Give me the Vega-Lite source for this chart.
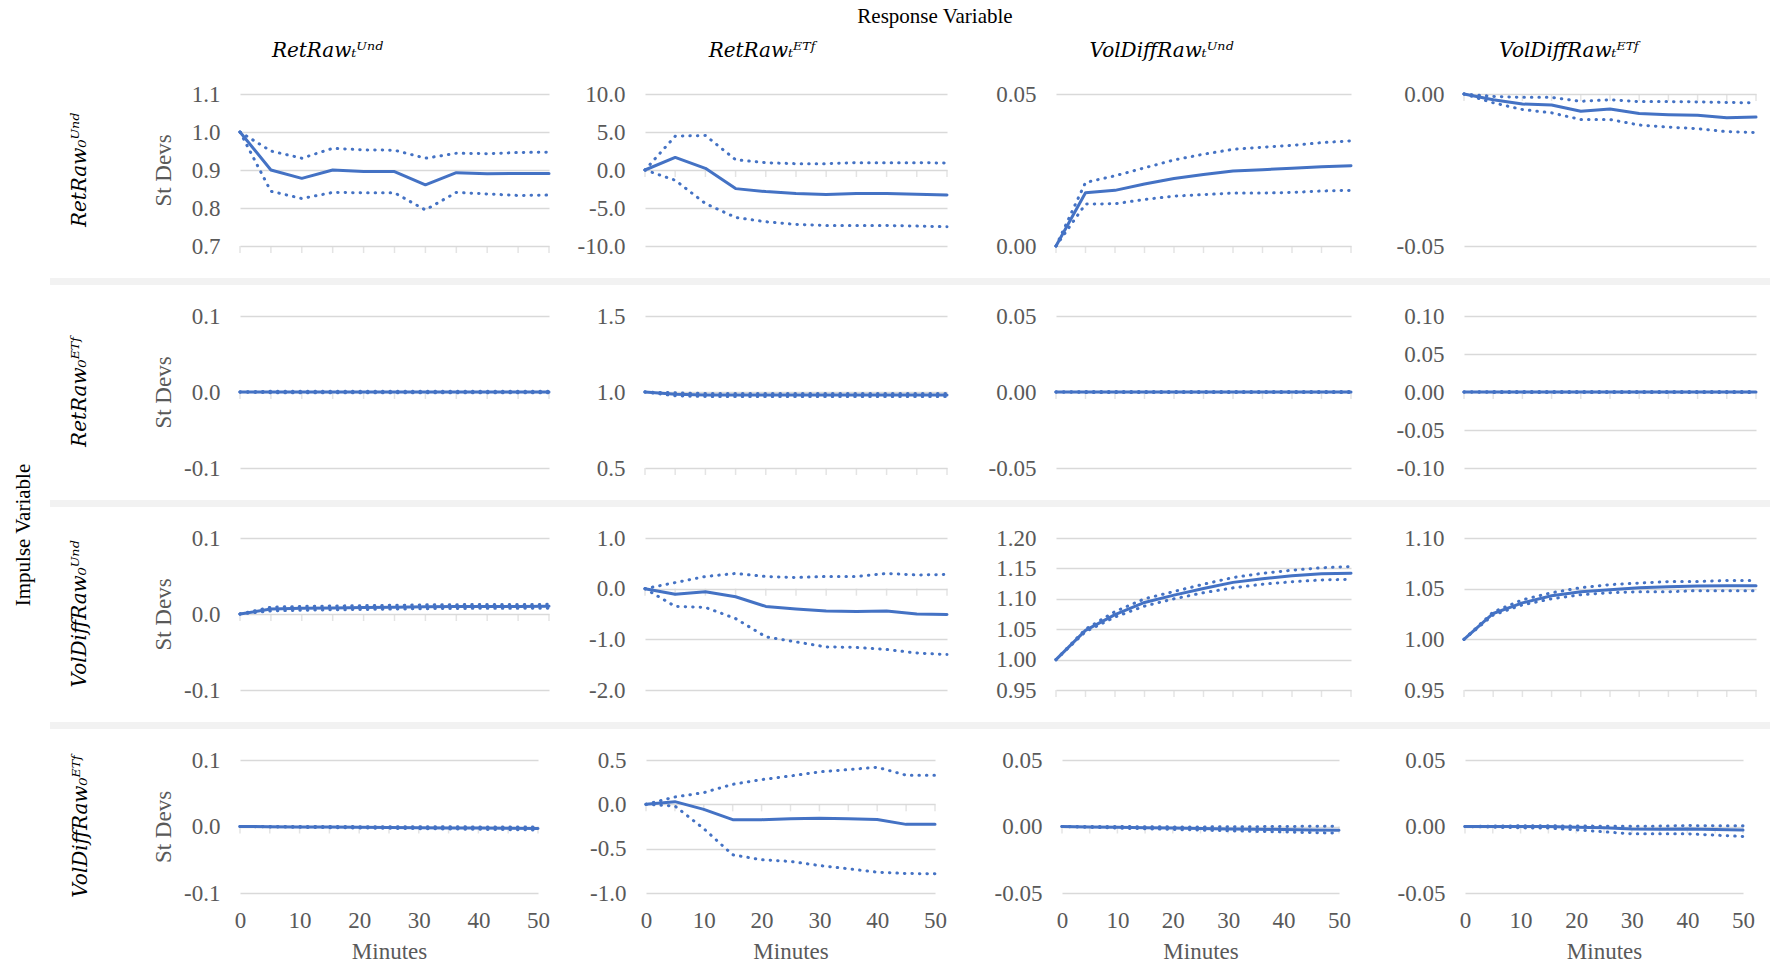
{
"$schema": "https://vega.github.io/schema/vega-lite/v6.json",
"background": "white",
"padding": {"left": 12, "top": 6, "right": 0, "bottom": 0},
"datasets": {"d": [
{"p":"11","t":0,"irf":1,"up":1,"lo":1},{"p":"11","t":5,"irf":0.9,"up":0.95,"lo":0.844},{"p":"11","t":10,"irf":0.878,"up":0.931,"lo":0.825},{"p":"11","t":15,"irf":0.9,"up":0.957,"lo":0.841},{"p":"11","t":20,"irf":0.896,"up":0.953,"lo":0.84},{"p":"11","t":25,"irf":0.896,"up":0.952,"lo":0.84},{"p":"11","t":30,"irf":0.861,"up":0.931,"lo":0.795},{"p":"11","t":35,"irf":0.893,"up":0.944,"lo":0.841},{"p":"11","t":40,"irf":0.89,"up":0.943,"lo":0.837},{"p":"11","t":45,"irf":0.891,"up":0.946,"lo":0.833},{"p":"11","t":50,"irf":0.891,"up":0.947,"lo":0.834},
{"p":"12","t":0,"irf":0,"up":0,"lo":0},{"p":"12","t":5,"irf":1.66,"up":4.45,"lo":-1.35},{"p":"12","t":10,"irf":0.22,"up":4.54,"lo":-4.41},{"p":"12","t":15,"irf":-2.45,"up":1.35,"lo":-6.24},{"p":"12","t":20,"irf":-2.84,"up":0.96,"lo":-6.81},{"p":"12","t":25,"irf":-3.1,"up":0.83,"lo":-7.16},{"p":"12","t":30,"irf":-3.23,"up":0.83,"lo":-7.3},{"p":"12","t":35,"irf":-3.1,"up":0.96,"lo":-7.3},{"p":"12","t":40,"irf":-3.1,"up":0.96,"lo":-7.3},{"p":"12","t":45,"irf":-3.19,"up":0.96,"lo":-7.38},{"p":"12","t":50,"irf":-3.28,"up":0.92,"lo":-7.47},
{"p":"13","t":0,"irf":0,"up":0,"lo":0},{"p":"13","t":5,"irf":0.0175,"up":0.0209,"lo":0.0138},{"p":"13","t":10,"irf":0.0183,"up":0.0231,"lo":0.0139},{"p":"13","t":15,"irf":0.0204,"up":0.0257,"lo":0.0153},{"p":"13","t":20,"irf":0.0222,"up":0.0283,"lo":0.0164},{"p":"13","t":25,"irf":0.0235,"up":0.0302,"lo":0.0169},{"p":"13","t":30,"irf":0.0247,"up":0.0318,"lo":0.0174},{"p":"13","t":35,"irf":0.0251,"up":0.0325,"lo":0.0174},{"p":"13","t":40,"irf":0.0256,"up":0.0331,"lo":0.0176},{"p":"13","t":45,"irf":0.0261,"up":0.034,"lo":0.0181},{"p":"13","t":50,"irf":0.0264,"up":0.0346,"lo":0.0183},
{"p":"14","t":0,"irf":0,"up":0,"lo":0},{"p":"14","t":5,"irf":-0.0019,"up":-0.0008,"lo":-0.0029},{"p":"14","t":10,"irf":-0.0033,"up":-0.0011,"lo":-0.0051},{"p":"14","t":15,"irf":-0.0036,"up":-0.0011,"lo":-0.0062},{"p":"14","t":20,"irf":-0.0057,"up":-0.0024,"lo":-0.0084},{"p":"14","t":25,"irf":-0.0049,"up":-0.0019,"lo":-0.0084},{"p":"14","t":30,"irf":-0.0064,"up":-0.0025,"lo":-0.0102},{"p":"14","t":35,"irf":-0.0068,"up":-0.0025,"lo":-0.0109},{"p":"14","t":40,"irf":-0.007,"up":-0.0026,"lo":-0.0114},{"p":"14","t":45,"irf":-0.0078,"up":-0.0028,"lo":-0.0124},{"p":"14","t":50,"irf":-0.0076,"up":-0.0029,"lo":-0.0127},
{"p":"21","t":0,"irf":0,"up":0,"lo":0},{"p":"21","t":5,"irf":0,"up":0.001,"lo":-0.001},{"p":"21","t":10,"irf":0,"up":0.001,"lo":-0.001},{"p":"21","t":15,"irf":0,"up":0.001,"lo":-0.001},{"p":"21","t":20,"irf":0,"up":0.001,"lo":-0.001},{"p":"21","t":25,"irf":0,"up":0.001,"lo":-0.001},{"p":"21","t":30,"irf":0,"up":0.001,"lo":-0.001},{"p":"21","t":35,"irf":0,"up":0.001,"lo":-0.001},{"p":"21","t":40,"irf":0,"up":0.001,"lo":-0.001},{"p":"21","t":45,"irf":0,"up":0.001,"lo":-0.001},{"p":"21","t":50,"irf":0,"up":0.001,"lo":-0.001},
{"p":"22","t":0,"irf":1,"up":1,"lo":1},{"p":"22","t":5,"irf":0.985,"up":0.995,"lo":0.975},{"p":"22","t":10,"irf":0.98,"up":0.99,"lo":0.97},{"p":"22","t":15,"irf":0.98,"up":0.99,"lo":0.97},{"p":"22","t":20,"irf":0.98,"up":0.99,"lo":0.97},{"p":"22","t":25,"irf":0.98,"up":0.99,"lo":0.97},{"p":"22","t":30,"irf":0.98,"up":0.99,"lo":0.97},{"p":"22","t":35,"irf":0.98,"up":0.99,"lo":0.97},{"p":"22","t":40,"irf":0.98,"up":0.99,"lo":0.97},{"p":"22","t":45,"irf":0.98,"up":0.99,"lo":0.97},{"p":"22","t":50,"irf":0.98,"up":0.99,"lo":0.97},
{"p":"23","t":0,"irf":0,"up":0,"lo":0},{"p":"23","t":5,"irf":0,"up":0.0003,"lo":-0.0003},{"p":"23","t":10,"irf":0,"up":0.0003,"lo":-0.0003},{"p":"23","t":15,"irf":0,"up":0.0003,"lo":-0.0003},{"p":"23","t":20,"irf":0,"up":0.0003,"lo":-0.0003},{"p":"23","t":25,"irf":0,"up":0.0003,"lo":-0.0003},{"p":"23","t":30,"irf":0,"up":0.0003,"lo":-0.0003},{"p":"23","t":35,"irf":0,"up":0.0003,"lo":-0.0003},{"p":"23","t":40,"irf":0,"up":0.0003,"lo":-0.0003},{"p":"23","t":45,"irf":0,"up":0.0003,"lo":-0.0003},{"p":"23","t":50,"irf":0,"up":0.0003,"lo":-0.0003},
{"p":"24","t":0,"irf":0,"up":0,"lo":0},{"p":"24","t":5,"irf":0,"up":0.0005,"lo":-0.0005},{"p":"24","t":10,"irf":0,"up":0.0005,"lo":-0.0005},{"p":"24","t":15,"irf":0,"up":0.0005,"lo":-0.0005},{"p":"24","t":20,"irf":0,"up":0.0005,"lo":-0.0005},{"p":"24","t":25,"irf":0,"up":0.0005,"lo":-0.0005},{"p":"24","t":30,"irf":0,"up":0.0005,"lo":-0.0005},{"p":"24","t":35,"irf":0,"up":0.0005,"lo":-0.0005},{"p":"24","t":40,"irf":0,"up":0.0005,"lo":-0.0005},{"p":"24","t":45,"irf":0,"up":0.0005,"lo":-0.0005},{"p":"24","t":50,"irf":0,"up":0.0005,"lo":-0.0005},
{"p":"31","t":0,"irf":0,"up":0,"lo":0},{"p":"31","t":5,"irf":0.0065,"up":0.009,"lo":0.004},{"p":"31","t":10,"irf":0.0075,"up":0.01,"lo":0.005},{"p":"31","t":15,"irf":0.008,"up":0.0105,"lo":0.0055},{"p":"31","t":20,"irf":0.0085,"up":0.011,"lo":0.006},{"p":"31","t":25,"irf":0.009,"up":0.0115,"lo":0.0065},{"p":"31","t":30,"irf":0.0095,"up":0.012,"lo":0.007},{"p":"31","t":35,"irf":0.0098,"up":0.0123,"lo":0.0073},{"p":"31","t":40,"irf":0.01,"up":0.0125,"lo":0.0075},{"p":"31","t":45,"irf":0.01,"up":0.0125,"lo":0.0075},{"p":"31","t":50,"irf":0.0102,"up":0.0127,"lo":0.0077},
{"p":"32","t":0,"irf":0,"up":0,"lo":0},{"p":"32","t":5,"irf":-0.11,"up":0.12,"lo":-0.35},{"p":"32","t":10,"irf":-0.06,"up":0.24,"lo":-0.37},{"p":"32","t":15,"irf":-0.16,"up":0.3,"lo":-0.59},{"p":"32","t":20,"irf":-0.35,"up":0.24,"lo":-0.95},{"p":"32","t":25,"irf":-0.4,"up":0.22,"lo":-1.05},{"p":"32","t":30,"irf":-0.44,"up":0.24,"lo":-1.15},{"p":"32","t":35,"irf":-0.45,"up":0.24,"lo":-1.16},{"p":"32","t":40,"irf":-0.44,"up":0.3,"lo":-1.2},{"p":"32","t":45,"irf":-0.5,"up":0.27,"lo":-1.27},{"p":"32","t":50,"irf":-0.51,"up":0.28,"lo":-1.3},
{"p":"33","t":0,"irf":1,"up":1,"lo":1},{"p":"33","t":5,"irf":1.048,"up":1.05,"lo":1.046},{"p":"33","t":10,"irf":1.074,"up":1.079,"lo":1.07},{"p":"33","t":15,"irf":1.094,"up":1.1,"lo":1.088},{"p":"33","t":20,"irf":1.106,"up":1.112,"lo":1.1},{"p":"33","t":25,"irf":1.117,"up":1.124,"lo":1.11},{"p":"33","t":30,"irf":1.127,"up":1.135,"lo":1.118},{"p":"33","t":35,"irf":1.133,"up":1.142,"lo":1.124},{"p":"33","t":40,"irf":1.138,"up":1.147,"lo":1.128},{"p":"33","t":45,"irf":1.141,"up":1.151,"lo":1.131},{"p":"33","t":50,"irf":1.142,"up":1.153,"lo":1.132},
{"p":"34","t":0,"irf":1,"up":1,"lo":1},{"p":"34","t":5,"irf":1.0255,"up":1.027,"lo":1.024},{"p":"34","t":10,"irf":1.036,"up":1.039,"lo":1.034},{"p":"34","t":15,"irf":1.043,"up":1.046,"lo":1.04},{"p":"34","t":20,"irf":1.047,"up":1.051,"lo":1.044},{"p":"34","t":25,"irf":1.049,"up":1.054,"lo":1.046},{"p":"34","t":30,"irf":1.051,"up":1.0555,"lo":1.047},{"p":"34","t":35,"irf":1.052,"up":1.057,"lo":1.047},{"p":"34","t":40,"irf":1.0526,"up":1.057,"lo":1.048},{"p":"34","t":45,"irf":1.053,"up":1.058,"lo":1.048},{"p":"34","t":50,"irf":1.053,"up":1.058,"lo":1.048},
{"p":"41","t":0,"irf":0,"up":0,"lo":0},{"p":"41","t":5,"irf":-0.0003,"up":0,"lo":-0.0006},{"p":"41","t":10,"irf":-0.0006,"up":0,"lo":-0.0012},{"p":"41","t":15,"irf":-0.0009,"up":-0.0001,"lo":-0.0017},{"p":"41","t":20,"irf":-0.0012,"up":-0.0002,"lo":-0.0022},{"p":"41","t":25,"irf":-0.0015,"up":-0.0003,"lo":-0.0027},{"p":"41","t":30,"irf":-0.0018,"up":-0.0004,"lo":-0.0032},{"p":"41","t":35,"irf":-0.0021,"up":-0.0005,"lo":-0.0037},{"p":"41","t":40,"irf":-0.0024,"up":-0.0006,"lo":-0.0042},{"p":"41","t":45,"irf":-0.0027,"up":-0.0007,"lo":-0.0047},{"p":"41","t":50,"irf":-0.003,"up":-0.0008,"lo":-0.0052},
{"p":"42","t":0,"irf":0,"up":0,"lo":0},{"p":"42","t":5,"irf":0.03,"up":0.083,"lo":-0.019},{"p":"42","t":10,"irf":-0.057,"up":0.132,"lo":-0.275},{"p":"42","t":15,"irf":-0.173,"up":0.226,"lo":-0.569},{"p":"42","t":20,"irf":-0.173,"up":0.279,"lo":-0.625},{"p":"42","t":25,"irf":-0.162,"up":0.32,"lo":-0.644},{"p":"42","t":30,"irf":-0.158,"up":0.366,"lo":-0.69},{"p":"42","t":35,"irf":-0.162,"up":0.392,"lo":-0.727},{"p":"42","t":40,"irf":-0.17,"up":0.418,"lo":-0.765},{"p":"42","t":45,"irf":-0.226,"up":0.328,"lo":-0.78},{"p":"42","t":50,"irf":-0.226,"up":0.328,"lo":-0.784},
{"p":"43","t":0,"irf":0,"up":0,"lo":0},{"p":"43","t":5,"irf":-0.0003,"up":0,"lo":-0.0006},{"p":"43","t":10,"irf":-0.0006,"up":0,"lo":-0.0012},{"p":"43","t":15,"irf":-0.0009,"up":-0.0002,"lo":-0.0017},{"p":"43","t":20,"irf":-0.0012,"up":-0.0003,"lo":-0.0022},{"p":"43","t":25,"irf":-0.0015,"up":-0.0003,"lo":-0.0027},{"p":"43","t":30,"irf":-0.0018,"up":-0.0002,"lo":-0.0032},{"p":"43","t":35,"irf":-0.002,"up":-0.0001,"lo":-0.0037},{"p":"43","t":40,"irf":-0.0023,"up":0,"lo":-0.0041},{"p":"43","t":45,"irf":-0.0026,"up":0.0002,"lo":-0.0046},{"p":"43","t":50,"irf":-0.0028,"up":0.0003,"lo":-0.005},
{"p":"44","t":0,"irf":0,"up":0,"lo":0},{"p":"44","t":5,"irf":0,"up":0.0003,"lo":-0.0005},{"p":"44","t":10,"irf":0,"up":0.0005,"lo":-0.001},{"p":"44","t":15,"irf":0,"up":0.0005,"lo":-0.0012},{"p":"44","t":20,"irf":-0.0005,"up":0.0004,"lo":-0.0025},{"p":"44","t":25,"irf":-0.001,"up":0.0002,"lo":-0.004},{"p":"44","t":30,"irf":-0.0018,"up":0.0001,"lo":-0.0055},{"p":"44","t":35,"irf":-0.002,"up":0.0003,"lo":-0.0055},{"p":"44","t":40,"irf":-0.0018,"up":0.0007,"lo":-0.0055},{"p":"44","t":45,"irf":-0.0022,"up":0.0005,"lo":-0.0065},{"p":"44","t":50,"irf":-0.0027,"up":0.0005,"lo":-0.0075}
]},
"title": {"text": "Response Variable", "font": "Liberation Serif", "fontStyle": "normal", "fontSize": 21, "fontWeight": "normal", "color": "black", "anchor": "middle", "dx": 42, "offset": 14},
"vconcat": [{
 "title": {"text": "Impulse Variable", "orient": "left", "font": "Liberation Serif", "fontStyle": "normal", "fontSize": 21, "fontWeight": "normal", "color": "black", "anchor": "middle", "offset": 16, "dx": -33},
 "spacing": 20,
 "vconcat": [
 {"spacing": 10, "hconcat": [
  {"width": 92, "height": 152, "data": {"values": [{"k": 1}]}, "mark": {"type": "text", "angle": 270, "font": "DejaVu Serif", "fontStyle": "italic", "fontSize": 20, "color": "black", "align": "center", "baseline": "middle", "dy": -16}, "encoding": {"text": {"value": "RetRaw₀ᵁⁿᵈ"}}},
  {"width": 309, "height": 152, "data": {"name": "d"}, "transform": [{"filter": "datum.p == '11'"}, {"fold": ["irf", "up", "lo"], "as": ["s", "v"]}],
   "title": {"text": "RetRawₜᵁⁿᵈ", "frame": "group", "anchor": "middle", "dx": -67, "offset": 22},
   "encoding": {"x": {"field": "t", "type": "quantitative", "scale": {"domain": [0, 50], "nice": false, "zero": false}, "axis": null},
    "y": {"field": "v", "type": "quantitative", "scale": {"domain": [0.7, 1.1], "nice": false, "zero": false}, "axis": {"values": [0.7, 0.8, 0.9, 1.0, 1.1], "labelExpr": "datum.value < 0 ? '-' + format(-datum.value, '.1f') : format(datum.value, '.1f')", "title": "St Devs", "titlePadding": 7, "minExtent": 58, "maxExtent": 58}}},
   "layer": [
    {"transform": [{"filter": "datum.s == 'irf'"}], "mark": {"type": "tick", "orient": "vertical", "size": 7, "thickness": 1.5, "color": "#d9d9d9", "yOffset": 3.5}, "encoding": {"y": {"datum": 0.7, "type": "quantitative"}}},
    {"transform": [{"filter": "datum.s != 'irf'"}], "mark": {"type": "line", "color": "#4472C4", "strokeWidth": 3, "strokeDash": [0.5, 7], "strokeCap": "round"}, "encoding": {"detail": {"field": "s"}}},
    {"transform": [{"filter": "datum.s == 'irf'"}], "mark": {"type": "line", "color": "#4472C4", "strokeWidth": 3, "strokeCap": "round", "strokeJoin": "round"}}
   ]},
  {"width": 302, "height": 152, "data": {"name": "d"}, "transform": [{"filter": "datum.p == '12'"}, {"fold": ["irf", "up", "lo"], "as": ["s", "v"]}],
   "title": {"text": "RetRawₜᴱᵀᶠ", "frame": "group", "anchor": "middle", "dx": -34, "offset": 22},
   "encoding": {"x": {"field": "t", "type": "quantitative", "scale": {"domain": [0, 50], "nice": false, "zero": false}, "axis": null},
    "y": {"field": "v", "type": "quantitative", "scale": {"domain": [-10, 10], "nice": false, "zero": false}, "axis": {"values": [-10, -5, 0, 5, 10], "labelExpr": "datum.value < 0 ? '-' + format(-datum.value, '.1f') : format(datum.value, '.1f')", "title": null, "minExtent": 80, "maxExtent": 80}}},
   "layer": [
    {"transform": [{"filter": "datum.s == 'irf'"}], "mark": {"type": "tick", "orient": "vertical", "size": 7, "thickness": 1.5, "color": "#d9d9d9", "yOffset": 3.5}, "encoding": {"y": {"datum": 0, "type": "quantitative"}}},
    {"transform": [{"filter": "datum.s != 'irf'"}], "mark": {"type": "line", "color": "#4472C4", "strokeWidth": 3, "strokeDash": [0.5, 7], "strokeCap": "round"}, "encoding": {"detail": {"field": "s"}}},
    {"transform": [{"filter": "datum.s == 'irf'"}], "mark": {"type": "line", "color": "#4472C4", "strokeWidth": 3, "strokeCap": "round", "strokeJoin": "round"}}
   ]},
  {"width": 295, "height": 152, "data": {"name": "d"}, "transform": [{"filter": "datum.p == '13'"}, {"fold": ["irf", "up", "lo"], "as": ["s", "v"]}],
   "title": {"text": "VolDiffRawₜᵁⁿᵈ", "frame": "group", "anchor": "middle", "dx": -42, "offset": 22},
   "encoding": {"x": {"field": "t", "type": "quantitative", "scale": {"domain": [0, 50], "nice": false, "zero": false}, "axis": null},
    "y": {"field": "v", "type": "quantitative", "scale": {"domain": [0, 0.05], "nice": false, "zero": false}, "axis": {"values": [0, 0.05], "labelExpr": "datum.value < 0 ? '-' + format(-datum.value, '.2f') : format(datum.value, '.2f')", "title": null, "minExtent": 93, "maxExtent": 93}}},
   "layer": [
    {"transform": [{"filter": "datum.s == 'irf'"}], "mark": {"type": "tick", "orient": "vertical", "size": 7, "thickness": 1.5, "color": "#d9d9d9", "yOffset": 3.5}, "encoding": {"y": {"datum": 0, "type": "quantitative"}}},
    {"transform": [{"filter": "datum.s != 'irf'"}], "mark": {"type": "line", "color": "#4472C4", "strokeWidth": 3, "strokeDash": [0.5, 7], "strokeCap": "round"}, "encoding": {"detail": {"field": "s"}}},
    {"transform": [{"filter": "datum.s == 'irf'"}], "mark": {"type": "line", "color": "#4472C4", "strokeWidth": 3, "strokeCap": "round", "strokeJoin": "round"}}
   ]},
  {"width": 292, "height": 152, "data": {"name": "d"}, "transform": [{"filter": "datum.p == '14'"}, {"fold": ["irf", "up", "lo"], "as": ["s", "v"]}],
   "title": {"text": "VolDiffRawₜᴱᵀᶠ", "frame": "group", "anchor": "middle", "dx": -41, "offset": 22},
   "encoding": {"x": {"field": "t", "type": "quantitative", "scale": {"domain": [0, 50], "nice": false, "zero": false}, "axis": null},
    "y": {"field": "v", "type": "quantitative", "scale": {"domain": [-0.05, 0], "nice": false, "zero": false}, "axis": {"values": [-0.05, 0], "labelExpr": "datum.value < 0 ? '-' + format(-datum.value, '.2f') : format(datum.value, '.2f')", "title": null, "minExtent": 97, "maxExtent": 97}}},
   "layer": [
    {"transform": [{"filter": "datum.s == 'irf'"}], "mark": {"type": "tick", "orient": "vertical", "size": 7, "thickness": 1.5, "color": "#d9d9d9", "yOffset": 3.5}, "encoding": {"y": {"datum": 0, "type": "quantitative"}}},
    {"transform": [{"filter": "datum.s != 'irf'"}], "mark": {"type": "line", "color": "#4472C4", "strokeWidth": 3, "strokeDash": [0.5, 7], "strokeCap": "round"}, "encoding": {"detail": {"field": "s"}}},
    {"transform": [{"filter": "datum.s == 'irf'"}], "mark": {"type": "line", "color": "#4472C4", "strokeWidth": 3, "strokeCap": "round", "strokeJoin": "round"}}
   ]}
 ]},
 {"width": 1723, "height": 7, "data": {"values": [{"k": 1}]}, "mark": {"type": "rect", "color": "#f2f2f2"}, "encoding": {"x": {"value": 0}, "x2": {"value": "width"}, "y": {"value": 0}, "y2": {"value": "height"}}},
 {"spacing": 10, "hconcat": [
  {"width": 92, "height": 152, "data": {"values": [{"k": 1}]}, "mark": {"type": "text", "angle": 270, "font": "DejaVu Serif", "fontStyle": "italic", "fontSize": 20, "color": "black", "align": "center", "baseline": "middle", "dy": -16}, "encoding": {"text": {"value": "RetRaw₀ᴱᵀᶠ"}}},
  {"width": 309, "height": 152, "data": {"name": "d"}, "transform": [{"filter": "datum.p == '21'"}, {"fold": ["irf", "up", "lo"], "as": ["s", "v"]}],
   "encoding": {"x": {"field": "t", "type": "quantitative", "scale": {"domain": [0, 50], "nice": false, "zero": false}, "axis": null},
    "y": {"field": "v", "type": "quantitative", "scale": {"domain": [-0.1, 0.1], "nice": false, "zero": false}, "axis": {"values": [-0.1, 0, 0.1], "labelExpr": "datum.value < 0 ? '-' + format(-datum.value, '.1f') : format(datum.value, '.1f')", "title": "St Devs", "titlePadding": 7, "minExtent": 58, "maxExtent": 58}}},
   "layer": [
    {"transform": [{"filter": "datum.s == 'irf'"}], "mark": {"type": "tick", "orient": "vertical", "size": 7, "thickness": 1.5, "color": "#d9d9d9", "yOffset": 3.5}, "encoding": {"y": {"datum": 0, "type": "quantitative"}}},
    {"transform": [{"filter": "datum.s != 'irf'"}], "mark": {"type": "line", "color": "#4472C4", "strokeWidth": 3, "strokeDash": [0.5, 7], "strokeCap": "round"}, "encoding": {"detail": {"field": "s"}}},
    {"transform": [{"filter": "datum.s == 'irf'"}], "mark": {"type": "line", "color": "#4472C4", "strokeWidth": 3, "strokeCap": "round", "strokeJoin": "round"}}
   ]},
  {"width": 302, "height": 152, "data": {"name": "d"}, "transform": [{"filter": "datum.p == '22'"}, {"fold": ["irf", "up", "lo"], "as": ["s", "v"]}],
   "encoding": {"x": {"field": "t", "type": "quantitative", "scale": {"domain": [0, 50], "nice": false, "zero": false}, "axis": null},
    "y": {"field": "v", "type": "quantitative", "scale": {"domain": [0.5, 1.5], "nice": false, "zero": false}, "axis": {"values": [0.5, 1, 1.5], "labelExpr": "datum.value < 0 ? '-' + format(-datum.value, '.1f') : format(datum.value, '.1f')", "title": null, "minExtent": 80, "maxExtent": 80}}},
   "layer": [
    {"transform": [{"filter": "datum.s == 'irf'"}], "mark": {"type": "tick", "orient": "vertical", "size": 7, "thickness": 1.5, "color": "#d9d9d9", "yOffset": 3.5}, "encoding": {"y": {"datum": 0.5, "type": "quantitative"}}},
    {"transform": [{"filter": "datum.s != 'irf'"}], "mark": {"type": "line", "color": "#4472C4", "strokeWidth": 3, "strokeDash": [0.5, 7], "strokeCap": "round"}, "encoding": {"detail": {"field": "s"}}},
    {"transform": [{"filter": "datum.s == 'irf'"}], "mark": {"type": "line", "color": "#4472C4", "strokeWidth": 3, "strokeCap": "round", "strokeJoin": "round"}}
   ]},
  {"width": 295, "height": 152, "data": {"name": "d"}, "transform": [{"filter": "datum.p == '23'"}, {"fold": ["irf", "up", "lo"], "as": ["s", "v"]}],
   "encoding": {"x": {"field": "t", "type": "quantitative", "scale": {"domain": [0, 50], "nice": false, "zero": false}, "axis": null},
    "y": {"field": "v", "type": "quantitative", "scale": {"domain": [-0.05, 0.05], "nice": false, "zero": false}, "axis": {"values": [-0.05, 0, 0.05], "labelExpr": "datum.value < 0 ? '-' + format(-datum.value, '.2f') : format(datum.value, '.2f')", "title": null, "minExtent": 93, "maxExtent": 93}}},
   "layer": [
    {"transform": [{"filter": "datum.s == 'irf'"}], "mark": {"type": "tick", "orient": "vertical", "size": 7, "thickness": 1.5, "color": "#d9d9d9", "yOffset": 3.5}, "encoding": {"y": {"datum": 0, "type": "quantitative"}}},
    {"transform": [{"filter": "datum.s != 'irf'"}], "mark": {"type": "line", "color": "#4472C4", "strokeWidth": 3, "strokeDash": [0.5, 7], "strokeCap": "round"}, "encoding": {"detail": {"field": "s"}}},
    {"transform": [{"filter": "datum.s == 'irf'"}], "mark": {"type": "line", "color": "#4472C4", "strokeWidth": 3, "strokeCap": "round", "strokeJoin": "round"}}
   ]},
  {"width": 292, "height": 152, "data": {"name": "d"}, "transform": [{"filter": "datum.p == '24'"}, {"fold": ["irf", "up", "lo"], "as": ["s", "v"]}],
   "encoding": {"x": {"field": "t", "type": "quantitative", "scale": {"domain": [0, 50], "nice": false, "zero": false}, "axis": null},
    "y": {"field": "v", "type": "quantitative", "scale": {"domain": [-0.1, 0.1], "nice": false, "zero": false}, "axis": {"values": [-0.1, -0.05, 0, 0.05, 0.1], "labelExpr": "datum.value < 0 ? '-' + format(-datum.value, '.2f') : format(datum.value, '.2f')", "title": null, "minExtent": 97, "maxExtent": 97}}},
   "layer": [
    {"transform": [{"filter": "datum.s == 'irf'"}], "mark": {"type": "tick", "orient": "vertical", "size": 7, "thickness": 1.5, "color": "#d9d9d9", "yOffset": 3.5}, "encoding": {"y": {"datum": 0, "type": "quantitative"}}},
    {"transform": [{"filter": "datum.s != 'irf'"}], "mark": {"type": "line", "color": "#4472C4", "strokeWidth": 3, "strokeDash": [0.5, 7], "strokeCap": "round"}, "encoding": {"detail": {"field": "s"}}},
    {"transform": [{"filter": "datum.s == 'irf'"}], "mark": {"type": "line", "color": "#4472C4", "strokeWidth": 3, "strokeCap": "round", "strokeJoin": "round"}}
   ]}
 ]},
 {"width": 1723, "height": 7, "data": {"values": [{"k": 1}]}, "mark": {"type": "rect", "color": "#f2f2f2"}, "encoding": {"x": {"value": 0}, "x2": {"value": "width"}, "y": {"value": 0}, "y2": {"value": "height"}}},
 {"spacing": 10, "hconcat": [
  {"width": 92, "height": 152, "data": {"values": [{"k": 1}]}, "mark": {"type": "text", "angle": 270, "font": "DejaVu Serif", "fontStyle": "italic", "fontSize": 20, "color": "black", "align": "center", "baseline": "middle", "dy": -16}, "encoding": {"text": {"value": "VolDiffRaw₀ᵁⁿᵈ"}}},
  {"width": 309, "height": 152, "data": {"name": "d"}, "transform": [{"filter": "datum.p == '31'"}, {"fold": ["irf", "up", "lo"], "as": ["s", "v"]}],
   "encoding": {"x": {"field": "t", "type": "quantitative", "scale": {"domain": [0, 50], "nice": false, "zero": false}, "axis": null},
    "y": {"field": "v", "type": "quantitative", "scale": {"domain": [-0.1, 0.1], "nice": false, "zero": false}, "axis": {"values": [-0.1, 0, 0.1], "labelExpr": "datum.value < 0 ? '-' + format(-datum.value, '.1f') : format(datum.value, '.1f')", "title": "St Devs", "titlePadding": 7, "minExtent": 58, "maxExtent": 58}}},
   "layer": [
    {"transform": [{"filter": "datum.s == 'irf'"}], "mark": {"type": "tick", "orient": "vertical", "size": 7, "thickness": 1.5, "color": "#d9d9d9", "yOffset": 3.5}, "encoding": {"y": {"datum": 0, "type": "quantitative"}}},
    {"transform": [{"filter": "datum.s != 'irf'"}], "mark": {"type": "line", "color": "#4472C4", "strokeWidth": 3, "strokeDash": [0.5, 7], "strokeCap": "round"}, "encoding": {"detail": {"field": "s"}}},
    {"transform": [{"filter": "datum.s == 'irf'"}], "mark": {"type": "line", "color": "#4472C4", "strokeWidth": 3, "strokeCap": "round", "strokeJoin": "round"}}
   ]},
  {"width": 302, "height": 152, "data": {"name": "d"}, "transform": [{"filter": "datum.p == '32'"}, {"fold": ["irf", "up", "lo"], "as": ["s", "v"]}],
   "encoding": {"x": {"field": "t", "type": "quantitative", "scale": {"domain": [0, 50], "nice": false, "zero": false}, "axis": null},
    "y": {"field": "v", "type": "quantitative", "scale": {"domain": [-2, 1], "nice": false, "zero": false}, "axis": {"values": [-2, -1, 0, 1], "labelExpr": "datum.value < 0 ? '-' + format(-datum.value, '.1f') : format(datum.value, '.1f')", "title": null, "minExtent": 80, "maxExtent": 80}}},
   "layer": [
    {"transform": [{"filter": "datum.s == 'irf'"}], "mark": {"type": "tick", "orient": "vertical", "size": 7, "thickness": 1.5, "color": "#d9d9d9", "yOffset": 3.5}, "encoding": {"y": {"datum": 0, "type": "quantitative"}}},
    {"transform": [{"filter": "datum.s != 'irf'"}], "mark": {"type": "line", "color": "#4472C4", "strokeWidth": 3, "strokeDash": [0.5, 7], "strokeCap": "round"}, "encoding": {"detail": {"field": "s"}}},
    {"transform": [{"filter": "datum.s == 'irf'"}], "mark": {"type": "line", "color": "#4472C4", "strokeWidth": 3, "strokeCap": "round", "strokeJoin": "round"}}
   ]},
  {"width": 295, "height": 152, "data": {"name": "d"}, "transform": [{"filter": "datum.p == '33'"}, {"fold": ["irf", "up", "lo"], "as": ["s", "v"]}],
   "encoding": {"x": {"field": "t", "type": "quantitative", "scale": {"domain": [0, 50], "nice": false, "zero": false}, "axis": null},
    "y": {"field": "v", "type": "quantitative", "scale": {"domain": [0.95, 1.2], "nice": false, "zero": false}, "axis": {"values": [0.95, 1, 1.05, 1.1, 1.15, 1.2], "labelExpr": "datum.value < 0 ? '-' + format(-datum.value, '.2f') : format(datum.value, '.2f')", "title": null, "minExtent": 93, "maxExtent": 93}}},
   "layer": [
    {"transform": [{"filter": "datum.s == 'irf'"}], "mark": {"type": "tick", "orient": "vertical", "size": 7, "thickness": 1.5, "color": "#d9d9d9", "yOffset": 3.5}, "encoding": {"y": {"datum": 0.95, "type": "quantitative"}}},
    {"transform": [{"filter": "datum.s != 'irf'"}], "mark": {"type": "line", "color": "#4472C4", "strokeWidth": 3, "strokeDash": [0.5, 7], "strokeCap": "round"}, "encoding": {"detail": {"field": "s"}}},
    {"transform": [{"filter": "datum.s == 'irf'"}], "mark": {"type": "line", "color": "#4472C4", "strokeWidth": 3, "strokeCap": "round", "strokeJoin": "round"}}
   ]},
  {"width": 292, "height": 152, "data": {"name": "d"}, "transform": [{"filter": "datum.p == '34'"}, {"fold": ["irf", "up", "lo"], "as": ["s", "v"]}],
   "encoding": {"x": {"field": "t", "type": "quantitative", "scale": {"domain": [0, 50], "nice": false, "zero": false}, "axis": null},
    "y": {"field": "v", "type": "quantitative", "scale": {"domain": [0.95, 1.1], "nice": false, "zero": false}, "axis": {"values": [0.95, 1, 1.05, 1.1], "labelExpr": "datum.value < 0 ? '-' + format(-datum.value, '.2f') : format(datum.value, '.2f')", "title": null, "minExtent": 97, "maxExtent": 97}}},
   "layer": [
    {"transform": [{"filter": "datum.s == 'irf'"}], "mark": {"type": "tick", "orient": "vertical", "size": 7, "thickness": 1.5, "color": "#d9d9d9", "yOffset": 3.5}, "encoding": {"y": {"datum": 0.95, "type": "quantitative"}}},
    {"transform": [{"filter": "datum.s != 'irf'"}], "mark": {"type": "line", "color": "#4472C4", "strokeWidth": 3, "strokeDash": [0.5, 7], "strokeCap": "round"}, "encoding": {"detail": {"field": "s"}}},
    {"transform": [{"filter": "datum.s == 'irf'"}], "mark": {"type": "line", "color": "#4472C4", "strokeWidth": 3, "strokeCap": "round", "strokeJoin": "round"}}
   ]}
 ]},
 {"width": 1723, "height": 7, "data": {"values": [{"k": 1}]}, "mark": {"type": "rect", "color": "#f2f2f2"}, "encoding": {"x": {"value": 0}, "x2": {"value": "width"}, "y": {"value": 0}, "y2": {"value": "height"}}},
 {"spacing": 13, "hconcat": [
  {"width": 89, "height": 133, "data": {"values": [{"k": 1}]}, "mark": {"type": "text", "angle": 270, "font": "DejaVu Serif", "fontStyle": "italic", "fontSize": 20, "color": "black", "align": "center", "baseline": "middle", "dy": -14}, "encoding": {"text": {"value": "VolDiffRaw₀ᴱᵀᶠ"}}},
  {"width": 298, "height": 133, "data": {"name": "d"}, "transform": [{"filter": "datum.p == '41'"}, {"fold": ["irf", "up", "lo"], "as": ["s", "v"]}],
   "encoding": {"x": {"field": "t", "type": "quantitative", "scale": {"domain": [0, 50], "nice": false, "zero": false}, "axis": {"values": [0, 10, 20, 30, 40, 50], "labelFlush": false, "labelPadding": 16, "title": "Minutes", "titlePadding": 8, "grid": false}},
    "y": {"field": "v", "type": "quantitative", "scale": {"domain": [-0.1, 0.1], "nice": false, "zero": false}, "axis": {"values": [-0.1, 0, 0.1], "labelExpr": "datum.value < 0 ? '-' + format(-datum.value, '.1f') : format(datum.value, '.1f')", "title": "St Devs", "titlePadding": 7, "minExtent": 58, "maxExtent": 58}}},
   "layer": [
    {"transform": [{"filter": "datum.s == 'irf'"}], "mark": {"type": "tick", "orient": "vertical", "size": 7, "thickness": 1.5, "color": "#d9d9d9", "yOffset": 3.5}, "encoding": {"y": {"datum": 0, "type": "quantitative"}}},
    {"transform": [{"filter": "datum.s != 'irf'"}], "mark": {"type": "line", "color": "#4472C4", "strokeWidth": 3, "strokeDash": [0.5, 7], "strokeCap": "round"}, "encoding": {"detail": {"field": "s"}}},
    {"transform": [{"filter": "datum.s == 'irf'"}], "mark": {"type": "line", "color": "#4472C4", "strokeWidth": 3, "strokeCap": "round", "strokeJoin": "round"}}
   ]},
  {"width": 289, "height": 133, "data": {"name": "d"}, "transform": [{"filter": "datum.p == '42'"}, {"fold": ["irf", "up", "lo"], "as": ["s", "v"]}],
   "encoding": {"x": {"field": "t", "type": "quantitative", "scale": {"domain": [0, 50], "nice": false, "zero": false}, "axis": {"values": [0, 10, 20, 30, 40, 50], "labelFlush": false, "labelPadding": 16, "title": "Minutes", "titlePadding": 8, "grid": false}},
    "y": {"field": "v", "type": "quantitative", "scale": {"domain": [-1, 0.5], "nice": false, "zero": false}, "axis": {"values": [-1, -0.5, 0, 0.5], "labelExpr": "datum.value < 0 ? '-' + format(-datum.value, '.1f') : format(datum.value, '.1f')", "title": null, "minExtent": 83, "maxExtent": 83}}},
   "layer": [
    {"transform": [{"filter": "datum.s == 'irf'"}], "mark": {"type": "tick", "orient": "vertical", "size": 7, "thickness": 1.5, "color": "#d9d9d9", "yOffset": 3.5}, "encoding": {"y": {"datum": 0, "type": "quantitative"}}},
    {"transform": [{"filter": "datum.s != 'irf'"}], "mark": {"type": "line", "color": "#4472C4", "strokeWidth": 3, "strokeDash": [0.5, 7], "strokeCap": "round"}, "encoding": {"detail": {"field": "s"}}},
    {"transform": [{"filter": "datum.s == 'irf'"}], "mark": {"type": "line", "color": "#4472C4", "strokeWidth": 3, "strokeCap": "round", "strokeJoin": "round"}}
   ]},
  {"width": 277, "height": 133, "data": {"name": "d"}, "transform": [{"filter": "datum.p == '43'"}, {"fold": ["irf", "up", "lo"], "as": ["s", "v"]}],
   "encoding": {"x": {"field": "t", "type": "quantitative", "scale": {"domain": [0, 50], "nice": false, "zero": false}, "axis": {"values": [0, 10, 20, 30, 40, 50], "labelFlush": false, "labelPadding": 16, "title": "Minutes", "titlePadding": 8, "grid": false}},
    "y": {"field": "v", "type": "quantitative", "scale": {"domain": [-0.05, 0.05], "nice": false, "zero": false}, "axis": {"values": [-0.05, 0, 0.05], "labelExpr": "datum.value < 0 ? '-' + format(-datum.value, '.2f') : format(datum.value, '.2f')", "title": null, "minExtent": 102, "maxExtent": 102}}},
   "layer": [
    {"transform": [{"filter": "datum.s == 'irf'"}], "mark": {"type": "tick", "orient": "vertical", "size": 7, "thickness": 1.5, "color": "#d9d9d9", "yOffset": 3.5}, "encoding": {"y": {"datum": 0, "type": "quantitative"}}},
    {"transform": [{"filter": "datum.s != 'irf'"}], "mark": {"type": "line", "color": "#4472C4", "strokeWidth": 3, "strokeDash": [0.5, 7], "strokeCap": "round"}, "encoding": {"detail": {"field": "s"}}},
    {"transform": [{"filter": "datum.s == 'irf'"}], "mark": {"type": "line", "color": "#4472C4", "strokeWidth": 3, "strokeCap": "round", "strokeJoin": "round"}}
   ]},
  {"width": 278, "height": 133, "data": {"name": "d"}, "transform": [{"filter": "datum.p == '44'"}, {"fold": ["irf", "up", "lo"], "as": ["s", "v"]}],
   "encoding": {"x": {"field": "t", "type": "quantitative", "scale": {"domain": [0, 50], "nice": false, "zero": false}, "axis": {"values": [0, 10, 20, 30, 40, 50], "labelFlush": false, "labelPadding": 16, "title": "Minutes", "titlePadding": 8, "grid": false}},
    "y": {"field": "v", "type": "quantitative", "scale": {"domain": [-0.05, 0.05], "nice": false, "zero": false}, "axis": {"values": [-0.05, 0, 0.05], "labelExpr": "datum.value < 0 ? '-' + format(-datum.value, '.2f') : format(datum.value, '.2f')", "title": null, "minExtent": 101, "maxExtent": 101}}},
   "layer": [
    {"transform": [{"filter": "datum.s == 'irf'"}], "mark": {"type": "tick", "orient": "vertical", "size": 7, "thickness": 1.5, "color": "#d9d9d9", "yOffset": 3.5}, "encoding": {"y": {"datum": 0, "type": "quantitative"}}},
    {"transform": [{"filter": "datum.s != 'irf'"}], "mark": {"type": "line", "color": "#4472C4", "strokeWidth": 3, "strokeDash": [0.5, 7], "strokeCap": "round"}, "encoding": {"detail": {"field": "s"}}},
    {"transform": [{"filter": "datum.s == 'irf'"}], "mark": {"type": "line", "color": "#4472C4", "strokeWidth": 3, "strokeCap": "round", "strokeJoin": "round"}}
   ]}
 ]}
 ]
}],
"config": {
 "view": {"stroke": null},
 "axis": {"labelFont": "Liberation Serif", "labelFontSize": 23, "labelColor": "#595959", "titleFont": "Liberation Serif", "titleFontSize": 23, "titleColor": "#595959", "titleFontWeight": "normal", "gridColor": "#d9d9d9", "gridWidth": 1.5, "domain": false, "ticks": false, "labelPadding": 20},
 "title": {"font": "DejaVu Serif", "fontStyle": "italic", "fontSize": 20, "fontWeight": "normal", "color": "black"}
}
}
